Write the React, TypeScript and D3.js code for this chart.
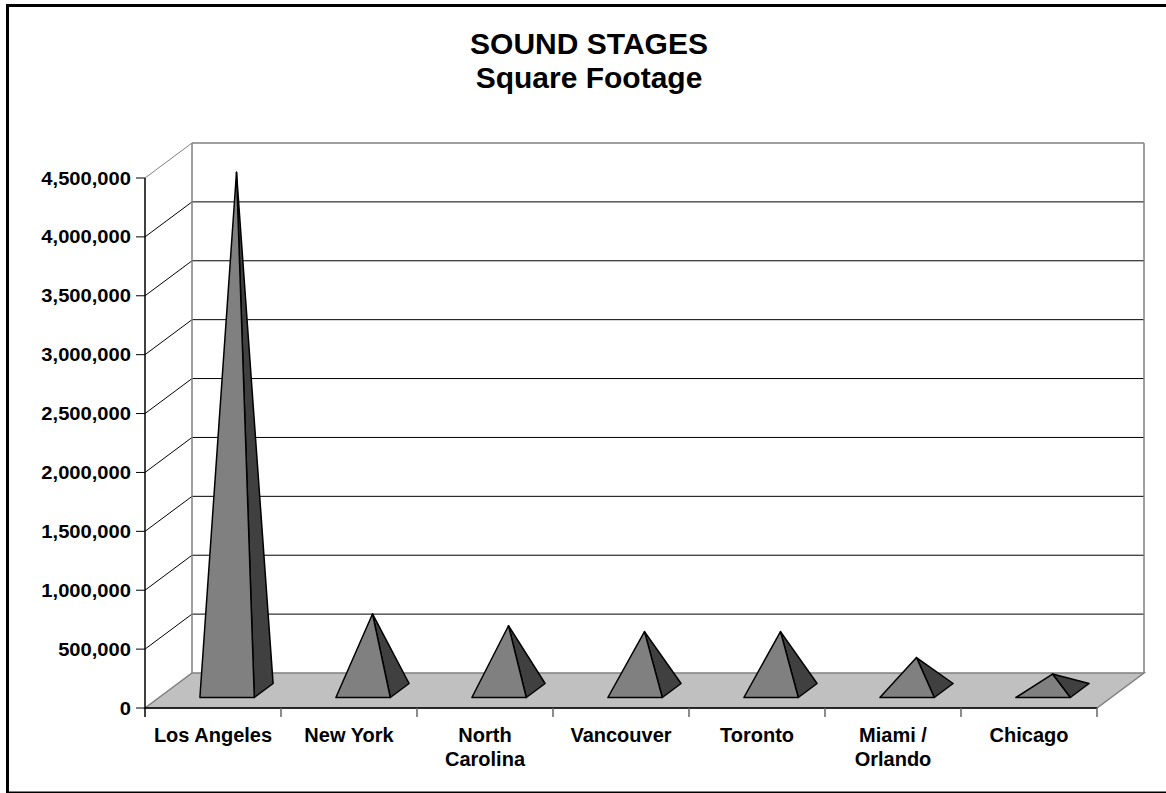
import React from "react";
import * as d3 from "d3";

// Sound stage square footage by production centre
const categories: string[][] = [
  ["Los Angeles"],
  ["New York"],
  ["North", "Carolina"],
  ["Vancouver"],
  ["Toronto"],
  ["Miami /", "Orlando"],
  ["Chicago"],
];
const squareFeet: number[] = [4400000, 650000, 550000, 500000, 500000, 280000, 140000];
const yTicks: number[] = [0, 500000, 1000000, 1500000, 2000000, 2500000, 3000000, 3500000, 4000000, 4500000];
const titleLines: string[] = ["SOUND STAGES", "Square Footage"];

const W = 1166;
const H = 793;
const FONT = "'Liberation Sans', Arial, Helvetica, sans-serif";

// plot frame (front plane) and 3-D depth offset
const X0 = 145;
const X1 = 1097;
const Y0 = 708;
const Y1 = 178;
const DX = 47;
const DY = 35;

const FRONT_FILL = "#808080";
const SIDE_FILL = "#404040";
const FLOOR_FILL = "#c0c0c0";
const EDGE = "#808080";

export default function App() {
  const keys = categories.map((c) => c.join(" "));
  const x = d3.scaleBand<string>().domain(keys).range([X0, X1]).paddingInner(0).paddingOuter(0);
  const y = d3.scaleLinear().domain([0, 4500000]).range([Y0, Y1]);
  const fmt = d3.format(",");

  // projection of (x, value, depth z in [0,1]) onto the page
  const P = (px: number, py: number, z: number): [number, number] => [px + z * DX, py - z * DY];
  const poly = (pts: [number, number][]) => d3.line()(pts)! + "Z";

  const barW = x.bandwidth() / 2.5;
  const z0 = 0.3;
  const z1 = 0.7;
  const zm = (z0 + z1) / 2;

  const top = y(4500000);

  return (
    <svg
      width={W}
      height={H}
      style={{ position: "absolute", left: 0, top: 0, display: "block", background: "#fff" }}
      fontFamily={FONT}
    >
      <rect x={0} y={0} width={W} height={H} fill="#fff" />

      {/* title */}
      {titleLines.map((t, i) => (
        <text
          key={t}
          x={589}
          y={54 + i * 33.5}
          textAnchor="middle"
          fontSize={30}
          fontWeight="bold"
          fill="#000"
        >
          {t}
        </text>
      ))}

      {/* back wall */}
      <path
        d={poly([P(X0, Y0, 1), P(X1, Y0, 1), P(X1, top, 1), P(X0, top, 1)])}
        fill="#fff"
        stroke="none"
      />

      {/* gridlines on back wall and side wall */}
      {yTicks.slice(1).map((v) => {
        const yy = y(v);
        const isTop = v === 4500000;
        const col = isTop ? EDGE : "#000";
        const a = P(X0, yy, 0);
        const b = P(X0, yy, 1);
        const c = P(X1, yy, 1);
        return (
          <g key={v}>
            <line x1={a[0]} y1={a[1]} x2={b[0]} y2={b[1]} stroke={col} strokeWidth={1} />
            <line x1={b[0]} y1={b[1]} x2={c[0]} y2={c[1]} stroke={col} strokeWidth={isTop ? 1.5 : 1} />
          </g>
        );
      })}

      {/* back wall vertical edges */}
      {[X0, X1].map((xx) => {
        const a = P(xx, Y0, 1);
        const b = P(xx, top, 1);
        return <line key={xx} x1={a[0]} y1={a[1]} x2={b[0]} y2={b[1]} stroke={EDGE} strokeWidth={1.5} />;
      })}

      {/* floor */}
      <path
        d={poly([P(X0, Y0, 0), P(X1, Y0, 0), P(X1, Y0, 1), P(X0, Y0, 1)])}
        fill={FLOOR_FILL}
        stroke={EDGE}
        strokeWidth={1.5}
      />

      {/* pyramids */}
      {squareFeet.map((v, i) => {
        const cx = x(keys[i])! + x.bandwidth() / 2;
        const l = cx - barW / 2;
        const r = cx + barW / 2;
        const apex = P(cx, y(v), zm);
        const fl = P(l, Y0, z0);
        const fr = P(r, Y0, z0);
        const br = P(r, Y0, z1);
        return (
          <g key={keys[i]} stroke="#000" strokeWidth={1.5} strokeLinejoin="round">
            <path d={poly([fr, br, apex])} fill={SIDE_FILL} />
            <path d={poly([fl, fr, apex])} fill={FRONT_FILL} />
          </g>
        );
      })}

      {/* value axis */}
      <line x1={X0} y1={Y0} x2={X0} y2={top} stroke="#000" strokeWidth={1.5} />
      {yTicks.map((v) => (
        <g key={v} transform={`translate(0,${y(v)})`}>
          <line x1={X0 - 9} x2={X0} y1={0} y2={0} stroke="#000" strokeWidth={1} />
          <g transform={`translate(131,6.5) scale(1.12,1)`}>
            <text x={0} y={0} textAnchor="end" fontSize={18} fontWeight="bold" fill="#000">
              {fmt(v)}
            </text>
          </g>
        </g>
      ))}

      {/* category axis */}
      <line x1={X0} y1={Y0} x2={X1} y2={Y0} stroke="#000" strokeWidth={1.5} />
      {d3.range(keys.length + 1).map((k) => {
        const xx = X0 + k * x.bandwidth();
        return <line key={k} x1={xx} x2={xx} y1={Y0} y2={Y0 + 9} stroke={k === 0 ? "#000" : "#666"} strokeWidth={1.5} />;
      })}
      {categories.map((lines, i) => {
        const cx = x(keys[i])! + x.bandwidth() / 2;
        return (
          <text key={keys[i]} x={cx} y={742} textAnchor="middle" fontSize={20} fontWeight="bold" fill="#000">
            {lines.map((ln, j) => (
              <tspan key={j} x={cx} dy={j === 0 ? 0 : 23.5}>
                {ln}
              </tspan>
            ))}
          </text>
        );
      })}

      {/* chart border */}
      <rect x={7.5} y={5.5} width={1170} height={787.5} fill="none" stroke="#000" strokeWidth={3} />
    </svg>
  );
}
